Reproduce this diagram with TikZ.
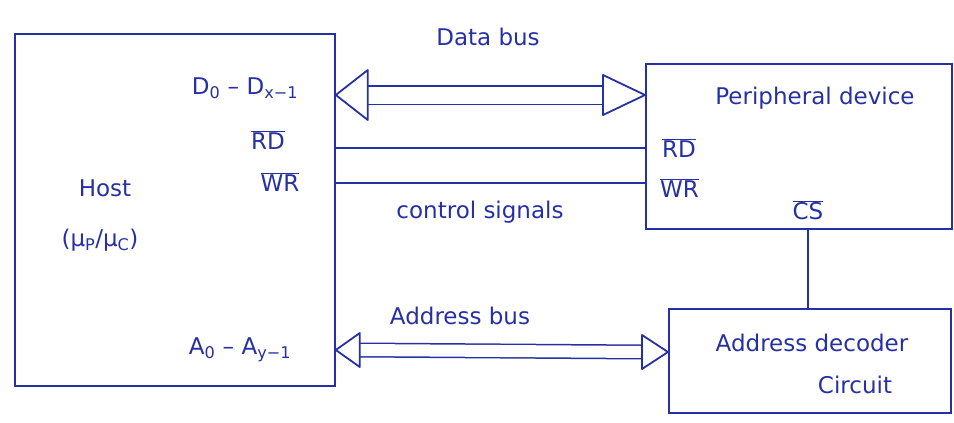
\documentclass[tikz,border=0pt]{standalone}
\usepackage{fontspec}
\setmainfont{DejaVu Sans}
\usetikzlibrary{calc}
\definecolor{ink}{RGB}{38,48,165}
\tikzset{
  ln/.style={draw=ink, line width=1.8pt},
  box/.style={ln, rectangle, inner sep=0pt, anchor=north west},
  lbl/.style={text=ink, font=\fontsize{23}{27}\selectfont, inner sep=0pt},
  busline/.style={draw=ink, line width=1.5pt, double=white},
}
\newcommand{\ovl}[1]{$\overline{\mbox{#1}}$}
\begin{document}
\begin{tikzpicture}[x=1pt,y=-1pt]
\useasboundingbox (0,0) rectangle (954,423);
% boxes
\node[box, minimum width=320pt, minimum height=352pt] (host) at (14,33) {};
\node[box, minimum width=306pt, minimum height=165pt] (per) at (645,63) {};
\node[box, minimum width=282pt, minimum height=104pt] (dec) at (668,308) {};

% data bus
\coordinate (hD) at (host.east |- 0,95);
\coordinate (pD) at (per.west |- 0,95);
\draw[busline, double distance=17pt] ($(hD)+(32,0)$) -- ($(pD)-(42,0)$);
\draw[ln, line join=round] (hD) -- ++(32,-25) -- ++(0,50) -- cycle;
\draw[ln, line join=round] (pD) -- ++(-42,-20) -- ++(0,40) -- cycle;

% control lines
\coordinate (hR) at (host.east |- 0,148);
\coordinate (pR) at (per.west |- 0,148);
\coordinate (hW) at (host.east |- 0,183);
\coordinate (pW) at (per.west |- 0,183);
\draw[ln] (hR) -- (pR);
\draw[ln] (hW) -- (pW);

% address bus
\coordinate (hA) at (host.east |- 0,350);
\coordinate (dA) at (dec.west |- 0,352);
\draw[busline, double distance=12pt] ($(hA)+(24,0)$) -- ($(dA)-(26,0)$);
\draw[ln, line join=round] (hA) -- ++(24,-17) -- ++(0,34) -- cycle;
\draw[ln, line join=round] (dA) -- ++(-26,-17) -- ++(0,34) -- cycle;

% chip select
\draw[ln] (per.south -| 808,0) -- (dec.north -| 808,0);

% labels
\node[lbl] (tdb) at (488,37) {Data bus};
\node[lbl] (td) at (245,88) {D\textsubscript{0} -- D\textsubscript{x−1}};
\node[lbl] (trd) at (268,140) {\ovl{RD}};
\node[lbl] (twr) at (280,182) {\ovl{WR}};
\node[lbl] (thost) at (105,188) {Host};
\node[lbl] (tmu) at (100,240) {(μ\textsubscript{P}/μ\textsubscript{C})};
\node[lbl] (ta) at (240,350) {A\textsubscript{0} -- A\textsubscript{y−1}};
\node[lbl] (tcs) at (480,212) {control signals};
\node[lbl] (tper) at (815,98) {Peripheral device};
\node[lbl, anchor=west] (prd) at (662,148) {\ovl{RD}};
\node[lbl, anchor=west] (pwr) at (660,188) {\ovl{WR}};
\node[lbl] (pcs) at (808,210) {\ovl{CS}};
\node[lbl] (tab) at (460,316) {Address bus};
\node[lbl] (tdec) at (812,343) {Address decoder};
\node[lbl] (tcir) at (855,385) {Circuit};
\end{tikzpicture}
\end{document}
